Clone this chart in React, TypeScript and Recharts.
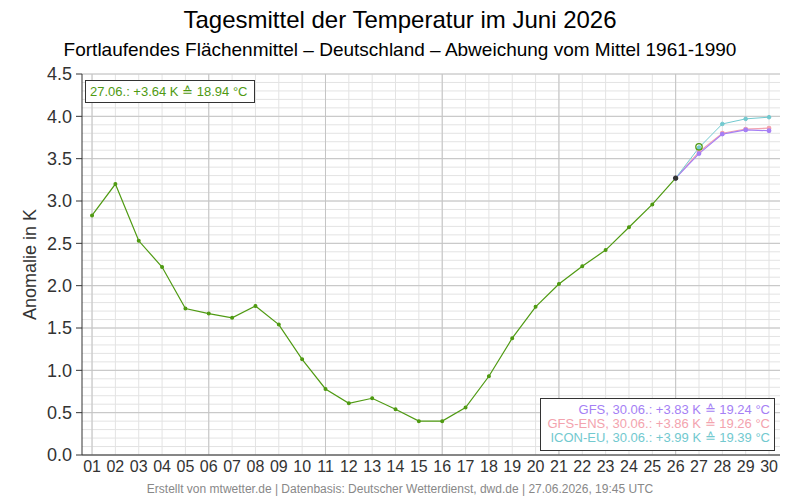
import React from 'react';
import { ComposedChart, Line, XAxis, YAxis, ReferenceLine, Label } from 'recharts';

const obsDays = [1,2,3,4,5,6,7,8,9,10,11,12,13,14,15,16,17,18,19,20,21,22,23,24,25,26];
const obsValues = [2.83,3.20,2.53,2.22,1.73,1.67,1.62,1.76,1.54,1.13,0.78,0.61,0.67,0.54,0.40,0.40,0.56,0.93,1.38,1.75,2.02,2.23,2.42,2.69,2.96,3.27];
const currentDay = 27;
const currentValue = 3.64;
const fcDays = [26,27,28,29,30];
const gfsValues = [3.27,3.56,3.79,3.84,3.83];
const ensValues = [3.27,3.58,3.80,3.85,3.86];
const iconValues = [3.27,3.63,3.91,3.97,3.99];
const yTicks = [0,0.5,1,1.5,2,2.5,3,3.5,4,4.5];
const xTicks = Array.from({ length: 30 }, (_, i) => i + 1);
const yMinor = Array.from({ length: 46 }, (_, i) => Math.round(i) / 10);
const xMajor = [1,6,11,16,21,26];

const GREEN = '#4f9a12';
const PURPLE = '#a57ff5';
const PINK = '#f3a3ae';
const TEAL = '#72c9cf';

const data = xTicks.map((d) => {
  const row: any = { day: d };
  const oi = obsDays.indexOf(d);
  if (oi >= 0) row.obs = obsValues[oi];
  if (d === obsDays[obsDays.length - 1]) row.last = obsValues[oi];
  if (d === currentDay) row.cur = currentValue;
  const fi = fcDays.indexOf(d);
  if (fi >= 0) {
    row.gfs = gfsValues[fi];
    row.ens = ensValues[fi];
    row.icon = iconValues[fi];
  }
  return row;
});

const font = '"Liberation Sans", Arial, sans-serif';

export default function App() {
  return (
    <div style={{ position: 'absolute', left: 0, top: 0, width: 800, height: 500, background: '#fff', fontFamily: font }}>
      <div style={{ position: 'absolute', left: 0, top: 6, width: 800, textAlign: 'center', fontSize: 24, color: '#000' }}>
        Tagesmittel der Temperatur im Juni 2026
      </div>
      <div style={{ position: 'absolute', left: 0, top: 39, width: 800, textAlign: 'center', fontSize: 19, color: '#000' }}>
        Fortlaufendes Flächenmittel – Deutschland – Abweichung vom Mittel 1961-1990
      </div>
      <div style={{ position: 'absolute', left: 0, top: 0 }}>
        <ComposedChart width={800} height={500} data={data} margin={{ top: 74, right: 20, bottom: 15, left: 22 }}>
          {yMinor.map((v) => (
            <ReferenceLine key={'hm' + v} y={v} stroke="#e3e3e3" strokeWidth={1} />
          ))}
          {xTicks.map((v) => (
            <ReferenceLine key={'vm' + v} x={v} stroke="#e3e3e3" strokeWidth={1} />
          ))}
          {yTicks.map((v) => (
            <ReferenceLine key={'hM' + v} y={v} stroke="#c4c4c4" strokeWidth={1} />
          ))}
          {xMajor.map((v) => (
            <ReferenceLine key={'vM' + v} x={v} stroke="#c4c4c4" strokeWidth={1} />
          ))}
          <XAxis
            dataKey="day"
            type="number"
            domain={[0.57, 30.47]}
            ticks={xTicks}
            interval={0}
            tickFormatter={(v: number) => String(v).padStart(2, '0')}
            tickLine={false}
            tickSize={4}
            tickMargin={2}
            height={30}
            axisLine={{ stroke: '#333' }}
            tick={{ fill: '#333', fontSize: 16, fontFamily: font }}
            allowDataOverflow
          />
          <XAxis xAxisId="top" orientation="top" dataKey="day" type="number" domain={[0.57, 30.47]} height={0} tick={false} tickLine={false} axisLine={{ stroke: '#333' }} />
          <YAxis
            type="number"
            domain={[0, 4.5]}
            ticks={yTicks}
            interval={0}
            tickFormatter={(v: number) => v.toFixed(1)}
            width={60}
            tickSize={6}
            tickMargin={4}
            tickLine={{ stroke: '#333' }}
            axisLine={{ stroke: '#333' }}
            tick={{ fill: '#333', fontSize: 18, fontFamily: font }}
            allowDataOverflow
          >
            <Label value="Anomalie in K" angle={-90} position="insideLeft" offset={8} style={{ fill: '#333', fontSize: 18, fontFamily: font, textAnchor: 'middle' }} />
          </YAxis>
          <YAxis yAxisId="right" orientation="right" domain={[0, 4.5]} width={0} tick={false} tickLine={false} axisLine={{ stroke: '#333' }} />
          <Line dataKey="ens" stroke={PINK} strokeWidth={1.2} dot={{ r: 1.8, fill: PINK, stroke: PINK }} isAnimationActive={false} connectNulls={false} />
          <Line dataKey="gfs" stroke={PURPLE} strokeWidth={1.2} dot={{ r: 1.8, fill: PURPLE, stroke: PURPLE }} isAnimationActive={false} connectNulls={false} />
          <Line dataKey="icon" stroke={TEAL} strokeWidth={1} dot={{ r: 1.8, fill: TEAL, stroke: TEAL }} isAnimationActive={false} connectNulls={false} />
          <Line dataKey="obs" stroke={GREEN} strokeWidth={1.2} dot={{ r: 1.4, fill: GREEN, stroke: GREEN }} isAnimationActive={false} connectNulls={false} />
          <Line dataKey="last" stroke="none" dot={{ r: 2.2, fill: '#333', stroke: '#333' }} isAnimationActive={false} />
          <Line dataKey="cur" stroke="none" dot={{ r: 3.2, fill: 'none', stroke: GREEN, strokeWidth: 1.3 }} isAnimationActive={false} />
        </ComposedChart>
      </div>
      <div style={{ position: 'absolute', left: 85, top: 80, width: 170, height: 23, border: '1px solid #333', background: '#fff', boxSizing: 'border-box', fontSize: 13, color: GREEN, lineHeight: '21px', paddingLeft: 4, whiteSpace: 'nowrap' }}>
        27.06.: +3.64 K ≙ 18.94 °C
      </div>
      <div style={{ position: 'absolute', left: 540, top: 398, width: 235, height: 53, border: '1px solid #333', background: '#fff', boxSizing: 'border-box', fontSize: 13, lineHeight: '14px', textAlign: 'right', paddingRight: 4, paddingTop: 4, whiteSpace: 'nowrap' }}>
        <div style={{ color: PURPLE }}>GFS, 30.06.: +3.83 K ≙ 19.24 °C</div>
        <div style={{ color: PINK }}>GFS-ENS, 30.06.: +3.86 K ≙ 19.26 °C</div>
        <div style={{ color: TEAL }}>ICON-EU, 30.06.: +3.99 K ≙ 19.39 °C</div>
      </div>
      <div style={{ position: 'absolute', left: 0, top: 482, width: 800, textAlign: 'center', fontSize: 12, color: '#888' }}>
        Erstellt von mtwetter.de | Datenbasis: Deutscher Wetterdienst, dwd.de | 27.06.2026, 19:45 UTC
      </div>
    </div>
  );
}
